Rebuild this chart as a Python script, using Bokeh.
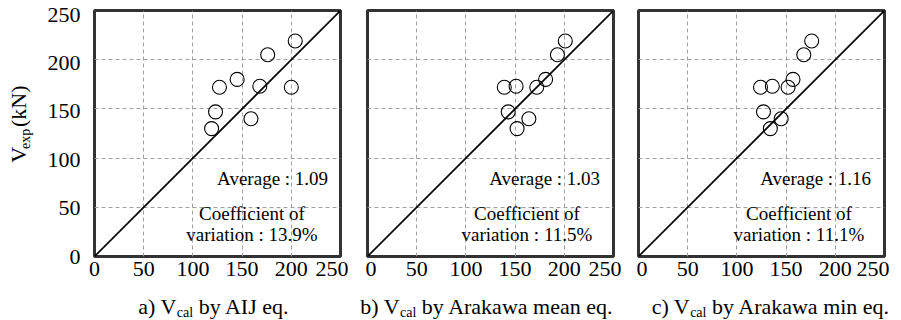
import math
from bokeh.plotting import figure
from bokeh.models import Range1d, Label, FixedTicker, Spacer
from bokeh.layouts import row, column
from bokeh.embed import file_html
from bokeh.resources import INLINE

# ---------------- data ----------------
vexp = [130, 147, 172, 180, 140, 173, 205, 172, 219]
vcal_aij = [119, 123, 127, 145, 159, 168, 176, 200, 204]
vcal_mean = [152, 143, 139, 181, 164, 151, 193, 172, 201]
vcal_min = [134, 127, 124, 157, 145, 136, 168, 152, 176]
ref_line = [0, 250]
tick_values = [0, 50, 100, 150, 200, 250]
title_pre = ["a) V", "b) V", "c) V"]
title_sub = "cal"
title_post = [" by AIJ eq.", " by Arakawa mean eq.", " by Arakawa min eq."]
averages = ["Average : 1.09", "Average : 1.03", "Average : 1.16"]
cov_line1 = "Coefficient of"
cov_line2 = ["variation : 13.9%", "variation : 11.5%", "variation : 11.1%"]
ylabel_parts = ("V", "exp", " (kN)")

# ---------------- styling / layout ----------------
FONT = "Liberation Serif"
TW = {' ': 250, 'a': 444, 'b': 500, 'c': 444, 'd': 500, 'e': 444, 'f': 333, 'g': 500,
      'h': 500, 'i': 278, 'j': 278, 'k': 500, 'l': 278, 'm': 778, 'n': 500, 'o': 500,
      'p': 500, 'q': 500, 'r': 333, 's': 389, 't': 278, 'u': 500, 'v': 500, 'w': 722,
      'x': 500, 'y': 500, 'z': 444, 'A': 722, 'I': 333, 'J': 389, 'K': 722, 'N': 722,
      'V': 722, '(': 333, ')': 333, '.': 250, ':': 278, '%': 833}


def tw(s, size):
    return sum(TW.get(ch, 500) for ch in s) / 1000.0 * size


FW = 246
MAIN = 22
SUB = 14
PLOT_H = 286          # figure height of the panel row
TITLE_H = 34
YLAB_W = 44
TOP_LABEL_DROP = 4    # the top y tick label sits a little below its grid line
# (left border, right border) of each panel figure, and gaps between figures
borders = [(46, 8), (2, 8), (2, 5)]
gaps = [17, 15]
title_center = [213.5, 486.5, 770.5]
avg_x = [181, 180, 180]
cov_x = [160, 162, 163]
series = [vcal_aij, vcal_mean, vcal_min]


def blank_fig(w, h):
    f = figure(width=w, height=h, min_border=0, x_range=Range1d(0, w), y_range=Range1d(0, h),
               x_axis_type=None, y_axis_type=None, toolbar_location=None, output_backend="svg",
               background_fill_color="white", border_fill_color="white")
    f.outline_line_color = None
    f.grid.visible = False
    return f


def lab(fig, x, y, text, size, align="left", angle=0.0):
    fig.add_layout(Label(x=x, y=y, text=text, angle=angle, text_font=FONT,
                         text_font_size=f"{size}px", text_align=align,
                         text_baseline="middle", text_color="black"))


def lead(s, size):
    """width of leading blanks (SVG drops them) and the stripped text"""
    t = s.lstrip(" ")
    return tw(s[:len(s) - len(t)], size), t


# y-axis title figure (rotated text with subscript)
ylab = blank_fig(YLAB_W, PLOT_H)
y_start = 286 - 177
lab(ylab, 18.0, y_start, ylabel_parts[0], MAIN, angle=math.pi / 2)
y2 = y_start + tw(ylabel_parts[0], MAIN)
lab(ylab, 25.3, y2, ylabel_parts[1], SUB, angle=math.pi / 2)
y3 = y2 + tw(ylabel_parts[1], SUB)
sp, txt = lead(ylabel_parts[2], MAIN)
lab(ylab, 18.0, y3 + sp, txt, MAIN, angle=math.pi / 2)

items = [ylab]
for i in range(3):
    bl, br = borders[i]
    p = figure(frame_width=FW, frame_height=FW, min_border_left=bl, min_border_right=br,
               min_border_top=10, min_border_bottom=PLOT_H - 10 - FW,
               x_range=Range1d(0, 250), y_range=Range1d(0, 250),
               toolbar_location=None, output_backend="svg",
               background_fill_color="white", border_fill_color="white")
    lab_end = 250 * FW / (FW - TOP_LABEL_DROP)
    p.extra_y_ranges = {"ticklab": Range1d(0, lab_end)}
    p.yaxis[0].y_range_name = "ticklab"
    p.outline_line_color = "#333333"
    p.outline_line_width = 3
    for ax in (p.xaxis, p.yaxis):
        ax.ticker = FixedTicker(ticks=tick_values)
        ax.axis_line_color = None
        ax.major_tick_line_color = None
        ax.minor_tick_line_color = None
        ax.major_label_text_font = FONT
        ax.major_label_text_font_size = f"{MAIN}px"
        ax.major_label_text_color = "black"
    p.xaxis.major_label_standoff = -1
    p.yaxis.major_label_standoff = 8
    for g in (p.xgrid, p.ygrid):
        g.ticker = FixedTicker(ticks=tick_values)
        g.grid_line_color = "#a0a0a0"
        g.grid_line_dash = "4 3"
        g.grid_line_width = 1
    if i > 0:
        p.yaxis.visible = False

    p.line(ref_line, ref_line, line_color="black", line_width=1.6)
    p.scatter(series[i], vexp, marker="circle", size=14, fill_color=None,
              line_color="black", line_width=1.1)

    lab(p, avg_x[i], 78.8, averages[i], 19, align="center")
    lab(p, cov_x[i], 43.2, cov_line1, 19, align="center")
    lab(p, cov_x[i], 21.9, cov_line2[i], 19, align="center")
    items.append(p)
    if i < 2:
        items.append(Spacer(width=gaps[i], height=PLOT_H))

# panel titles (with subscript) in a strip below the panels
tfig = blank_fig(901, TITLE_H)
for i in range(3):
    w1 = tw(title_pre[i], MAIN)
    w2 = tw(title_sub, SUB)
    w3 = tw(title_post[i], MAIN)
    x0 = title_center[i] - (w1 + w2 + w3) / 2
    lab(tfig, x0, 320 - 305.5, title_pre[i], MAIN)
    lab(tfig, x0 + w1, 320 - 311.8, title_sub, SUB)
    sp, txt = lead(title_post[i], MAIN)
    lab(tfig, x0 + w1 + w2 + sp, 320 - 305.5, txt, MAIN)

layout = column(row(*items), tfig)
open("out.html", "w").write(file_html(layout, INLINE))
